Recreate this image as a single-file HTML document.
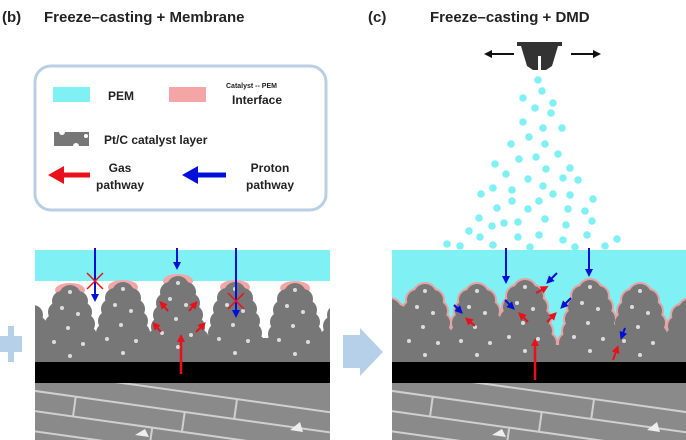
<!DOCTYPE html>
<html><head><meta charset="utf-8"><style>
html,body{margin:0;padding:0;background:#fff;width:686px;height:440px;overflow:hidden;}
svg{display:block;}
text{font-family:"Liberation Sans",Arial,sans-serif;font-weight:bold;fill:#222;}
</style></head><body>
<svg width="686" height="440" viewBox="0 0 686 440" xmlns="http://www.w3.org/2000/svg">
<defs>
<g id="pil">
<path d="M-10,5 L10,5 L27,78 L-27,78 z"/>
<circle cx="0" cy="10" r="11"/><circle cx="-8" cy="15" r="10"/><circle cx="8" cy="15" r="10"/>
<circle cx="-12" cy="26" r="10"/><circle cx="12" cy="26" r="10"/>
<circle cx="-15" cy="38" r="10"/><circle cx="15" cy="38" r="10"/>
<circle cx="-17" cy="50" r="10"/><circle cx="17" cy="50" r="10"/>
<circle cx="-21" cy="62" r="10"/><circle cx="21" cy="62" r="10"/>
</g>
<g id="dots" fill="#ddd">
<circle cx="0" cy="6" r="2"/><circle cx="-8" cy="22" r="2"/><circle cx="8" cy="28" r="2"/>
<circle cx="-2" cy="42" r="2"/><circle cx="-16" cy="56" r="2"/><circle cx="13" cy="58" r="2"/><circle cx="0" cy="70" r="2"/>
</g>
<marker id="hb" markerWidth="8" markerHeight="8" refX="4" refY="4" orient="auto" markerUnits="userSpaceOnUse"><path d="M0,0 L8,4 L0,8 z" fill="#0010d8"/></marker>
<marker id="hr" markerWidth="8" markerHeight="8" refX="4" refY="4" orient="auto" markerUnits="userSpaceOnUse"><path d="M0,0 L8,4 L0,8 z" fill="#e8101a"/></marker>
<marker id="hk" markerWidth="8" markerHeight="8" refX="4" refY="4" orient="auto" markerUnits="userSpaceOnUse"><path d="M0,0 L8,4 L0,8 z" fill="#111"/></marker>
<clipPath id="cl"><rect x="35" y="240" width="295" height="200"/></clipPath>
<clipPath id="cr"><rect x="392" y="240" width="294" height="200"/></clipPath>
<clipPath id="fc"><rect x="-50" y="383" width="400" height="60"/></clipPath>
<g id="fib" clip-path="url(#fc)">
<rect x="0" y="383" width="300" height="57" fill="#8a8a8a"/>
<g stroke="#d0d0d0" stroke-width="2" transform="rotate(8 150 410)">
<line x1="-20" y1="392" x2="320" y2="392"/>
<line x1="-20" y1="412" x2="320" y2="412"/>
<line x1="-20" y1="432" x2="320" y2="432"/>
<line x1="-20" y1="452" x2="320" y2="452"/>
<line x1="75" y1="372" x2="75" y2="392"/><line x1="200" y1="392" x2="200" y2="412"/>
<line x1="40" y1="412" x2="40" y2="432"/><line x1="150" y1="412" x2="150" y2="432"/>
<line x1="120" y1="432" x2="120" y2="452"/><line x1="260" y1="432" x2="260" y2="452"/>
</g>
<path d="M100,435 l10,-6 l4,8 z M255,430 l10,-8 l3,10 z" fill="#eee"/>
</g>
</defs>

<text x="2" y="22" font-size="15">(b)</text>
<text x="44" y="22" font-size="15">Freeze–casting + Membrane</text>
<text x="368" y="22" font-size="15">(c)</text>
<text x="430" y="22" font-size="15">Freeze–casting + DMD</text>

<!-- legend -->
<rect x="35" y="66" width="291" height="144" rx="16" fill="#fff" stroke="#b8cfe6" stroke-width="3"/>
<rect x="53" y="87" width="37" height="15" fill="#7ff1f4"/>
<text x="108" y="100" font-size="12">PEM</text>
<rect x="169" y="87" width="37" height="15" fill="#f4a6a6"/>
<text x="226" y="88" font-size="7">Catalyst -- PEM</text>
<text x="232" y="104" font-size="12">Interface</text>
<rect x="54" y="132" width="35" height="14" fill="#777"/>
<circle cx="62" cy="132" r="3" fill="#fff"/><circle cx="76" cy="146" r="3" fill="#fff"/><circle cx="86" cy="136" r="2" fill="#fff"/>
<text x="104" y="144" font-size="12">Pt/C catalyst layer</text>
<line x1="90" y1="175" x2="62" y2="175" stroke="#e8101a" stroke-width="5"/>
<path d="M48,175 L64,166 L64,184 z" fill="#e8101a"/>
<text x="120" y="172" font-size="12" text-anchor="middle">Gas</text>
<text x="120" y="189" font-size="12" text-anchor="middle">pathway</text>
<line x1="226" y1="175" x2="196" y2="175" stroke="#0010d8" stroke-width="5"/>
<path d="M182,175 L198,166 L198,184 z" fill="#0010d8"/>
<text x="270" y="172" font-size="12" text-anchor="middle">Proton</text>
<text x="270" y="189" font-size="12" text-anchor="middle">pathway</text>

<!-- connecting arrows -->
<path d="M0,336 H8 V326 H14 V336 H22 V352 H14 V362 H8 V352 H0 z" fill="#b7d0ea"/>
<path d="M343,335 H360 V328 L383,352 L360,376 V368 H343 z" fill="#b7d0ea"/>

<!-- LEFT panel -->
<g clip-path="url(#cl)">
<rect x="35" y="250" width="295" height="31" fill="#7ff1f4"/>
<g fill="#f4a6a6">
<ellipse cx="70" cy="290" rx="15" ry="7"/><ellipse cx="123" cy="287" rx="15" ry="7"/><ellipse cx="178" cy="281" rx="15" ry="7"/><ellipse cx="235" cy="287" rx="15" ry="7"/><ellipse cx="295" cy="288" rx="15" ry="7"/>
</g>
<g fill="#777">
<use href="#pil" x="70" y="286"/><use href="#pil" x="123" y="283"/><use href="#pil" x="178" y="277"/><use href="#pil" x="235" y="283"/><use href="#pil" x="295" y="284"/><use href="#pil" x="25" y="300"/><use href="#pil" x="345" y="300"/>
<rect x="35" y="338" width="295" height="25"/>
</g>
<use href="#dots" x="70" y="286"/><use href="#dots" x="123" y="283"/><use href="#dots" x="178" y="277"/><use href="#dots" x="235" y="283"/><use href="#dots" x="295" y="284"/>
<rect x="35" y="362" width="295" height="21" fill="#000"/>
<use href="#fib" x="35"/>
</g>
<g stroke-width="2">
<line x1="95" y1="248" x2="95" y2="298" stroke="#0010d8" marker-end="url(#hb)"/>
<line x1="177" y1="248" x2="177" y2="266" stroke="#0010d8" marker-end="url(#hb)"/>
<line x1="236" y1="248" x2="236" y2="314" stroke="#0010d8" marker-end="url(#hb)"/>
<path d="M87,273 L103,289 M87,289 L103,273" stroke="#e8101a" stroke-width="1.5"/>
<path d="M228,293 L244,309 M228,309 L244,293" stroke="#e8101a" stroke-width="1.5"/>
<line x1="181" y1="374" x2="181" y2="338" stroke="#e8101a" stroke-width="2.5" marker-end="url(#hr)"/>
<line x1="168" y1="311" x2="162" y2="304" stroke="#e8101a" marker-end="url(#hr)"/>
<line x1="189" y1="311" x2="195" y2="304" stroke="#e8101a" marker-end="url(#hr)"/>
<line x1="161" y1="332" x2="155" y2="325" stroke="#e8101a" marker-end="url(#hr)"/>
<line x1="196" y1="332" x2="203" y2="325" stroke="#e8101a" marker-end="url(#hr)"/>
</g>

<!-- RIGHT panel -->
<g clip-path="url(#cr)">
<rect x="392" y="250" width="294" height="113" fill="#7ff1f4"/>
<g fill="#e7a3a3" stroke="#e7a3a3" stroke-width="4">
<use href="#pil" x="425" y="285"/><use href="#pil" x="477" y="285"/><use href="#pil" x="525" y="281"/><use href="#pil" x="590" y="281"/><use href="#pil" x="640" y="285"/><use href="#pil" x="390" y="300"/><use href="#pil" x="690" y="300"/>
</g>
<g fill="#777">
<use href="#pil" x="425" y="285"/><use href="#pil" x="477" y="285"/><use href="#pil" x="525" y="281"/><use href="#pil" x="590" y="281"/><use href="#pil" x="640" y="285"/><use href="#pil" x="390" y="300"/><use href="#pil" x="690" y="300"/>
<rect x="392" y="345" width="294" height="18"/>
</g>
<use href="#dots" x="425" y="285"/><use href="#dots" x="477" y="285"/><use href="#dots" x="525" y="281"/><use href="#dots" x="590" y="281"/><use href="#dots" x="640" y="285"/>
<rect x="392" y="362" width="294" height="21" fill="#000"/>
<use href="#fib" x="392"/>
</g>
<g stroke-width="2">
<line x1="506" y1="248" x2="506" y2="280" stroke="#0010d8" marker-end="url(#hb)"/>
<line x1="589" y1="248" x2="589" y2="273" stroke="#0010d8" marker-end="url(#hb)"/>
<line x1="557" y1="273" x2="549" y2="281" stroke="#0010d8" marker-end="url(#hb)"/>
<line x1="454" y1="305" x2="460" y2="311" stroke="#0010d8" marker-end="url(#hb)"/>
<line x1="505" y1="300" x2="512" y2="307" stroke="#0010d8" marker-end="url(#hb)"/>
<line x1="571" y1="298" x2="563" y2="306" stroke="#0010d8" marker-end="url(#hb)"/>
<line x1="625" y1="328" x2="622" y2="336" stroke="#0010d8" marker-end="url(#hb)"/>
<line x1="535" y1="380" x2="535" y2="342" stroke="#e8101a" stroke-width="2.5" marker-end="url(#hr)"/>
<line x1="536" y1="293" x2="545" y2="288" stroke="#e8101a" marker-end="url(#hr)"/>
<line x1="475" y1="326" x2="468" y2="320" stroke="#e8101a" marker-end="url(#hr)"/>
<line x1="528" y1="322" x2="521" y2="315" stroke="#e8101a" marker-end="url(#hr)"/>
<line x1="547" y1="322" x2="554" y2="315" stroke="#e8101a" marker-end="url(#hr)"/>
<line x1="613" y1="360" x2="617" y2="349" stroke="#e8101a" marker-end="url(#hr)"/>
</g>

<!-- nozzle -->
<rect x="517" y="42" width="45" height="4" fill="#333"/>
<path d="M521,46 H558 L552,66 L546,70 H533 L527,66 Z" fill="#333"/>
<rect x="538" y="56" width="3" height="14" fill="#fff"/>
<line x1="514" y1="54" x2="488" y2="54" stroke="#111" stroke-width="2" marker-end="url(#hk)"/>
<line x1="571" y1="54" x2="597" y2="54" stroke="#111" stroke-width="2" marker-end="url(#hk)"/>

<!-- droplets -->
<g fill="#7ff1f4">
<circle cx="538" cy="80" r="3.8"/><circle cx="542" cy="91" r="3.8"/><circle cx="523" cy="98" r="3.8"/><circle cx="553" cy="103" r="3.8"/><circle cx="535" cy="108" r="3.8"/><circle cx="551" cy="113" r="3.8"/><circle cx="523" cy="122" r="3.8"/><circle cx="543" cy="128" r="3.8"/><circle cx="562" cy="128" r="3.8"/><circle cx="529" cy="137" r="3.8"/><circle cx="511" cy="144" r="3.8"/><circle cx="545" cy="144" r="3.8"/><circle cx="558" cy="154" r="3.8"/><circle cx="519" cy="159" r="3.8"/><circle cx="536" cy="157" r="3.8"/><circle cx="495" cy="164" r="3.8"/><circle cx="546" cy="169" r="3.8"/><circle cx="570" cy="168" r="3.8"/><circle cx="506" cy="174" r="3.8"/><circle cx="528" cy="179" r="3.8"/><circle cx="563" cy="178" r="3.8"/><circle cx="578" cy="180" r="3.8"/><circle cx="543" cy="186" r="3.8"/><circle cx="493" cy="188" r="3.8"/><circle cx="512" cy="190" r="3.8"/><circle cx="481" cy="194" r="3.8"/><circle cx="553" cy="194" r="3.8"/><circle cx="570" cy="195" r="3.8"/><circle cx="593" cy="199" r="3.8"/><circle cx="512" cy="201" r="3.8"/><circle cx="539" cy="201" r="3.8"/><circle cx="497" cy="208" r="3.8"/><circle cx="528" cy="209" r="3.8"/><circle cx="568" cy="209" r="3.8"/><circle cx="585" cy="211" r="3.8"/><circle cx="479" cy="218" r="3.8"/><circle cx="545" cy="219" r="3.8"/><circle cx="592" cy="221" r="3.8"/><circle cx="492" cy="226" r="3.8"/><circle cx="504" cy="223" r="3.8"/><circle cx="518" cy="222" r="3.8"/><circle cx="566" cy="225" r="3.8"/><circle cx="469" cy="231" r="3.8"/><circle cx="480" cy="237" r="3.8"/><circle cx="518" cy="237" r="3.8"/><circle cx="539" cy="235" r="3.8"/><circle cx="563" cy="240" r="3.8"/><circle cx="587" cy="235" r="3.8"/><circle cx="605" cy="246" r="3.8"/><circle cx="617" cy="239" r="3.8"/><circle cx="493" cy="245" r="3.8"/><circle cx="460" cy="246" r="3.8"/><circle cx="447" cy="244" r="3.8"/><circle cx="530" cy="247" r="3.8"/><circle cx="575" cy="247" r="3.8"/>
</g>
</svg>
</body></html>
